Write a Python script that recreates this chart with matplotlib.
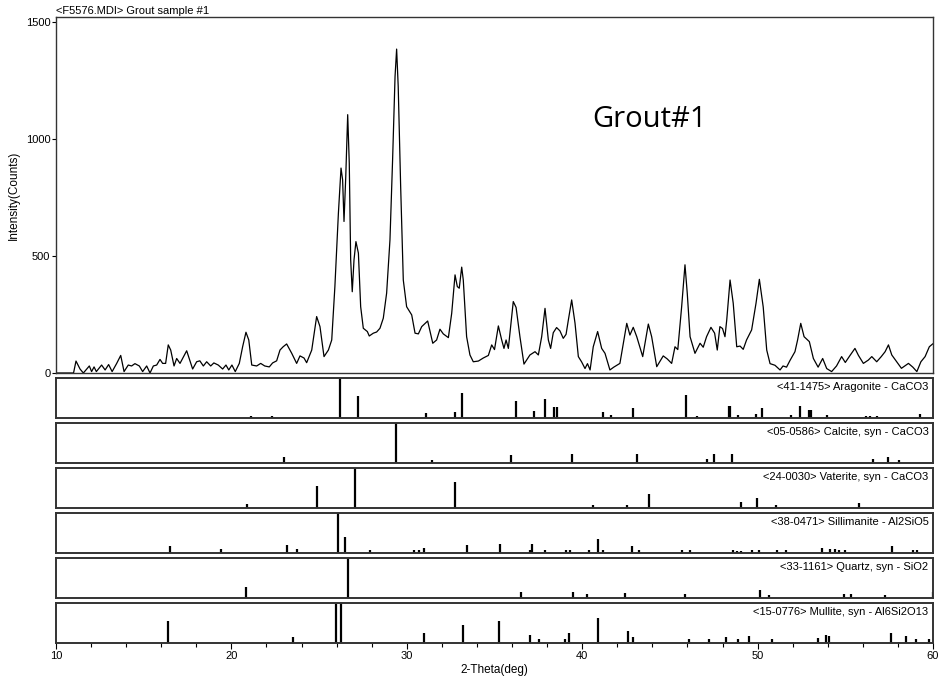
import matplotlib
matplotlib.use("Agg")
import matplotlib.pyplot as plt

# measured pattern: 2-theta (deg) and intensity (counts)
two_theta = [
    10.0, 11.0, 11.14, 11.37, 11.56, 11.9, 12.03, 12.17, 12.3, 12.6, 12.8, 13.0,
    13.2, 13.46, 13.69, 13.88, 14.12, 14.31, 14.5, 14.75, 14.94, 15.17, 15.36,
    15.55, 15.74, 15.93, 16.08, 16.25, 16.4, 16.54, 16.73, 16.88, 17.07, 17.45,
    17.79, 18.02, 18.2, 18.4, 18.59, 18.82, 19.0, 19.25, 19.5, 19.69, 19.85,
    20.03, 20.22, 20.45, 20.64, 20.83, 20.99, 21.16, 21.44, 21.67, 21.9, 22.16,
    22.35, 22.58, 22.77, 22.95, 23.15, 23.44, 23.72, 23.91, 24.14, 24.29, 24.58,
    24.86, 25.05, 25.28, 25.53, 25.72, 25.9, 26.1, 26.25, 26.34, 26.42, 26.52,
    26.63, 26.72, 26.8, 26.89, 26.99, 27.1, 27.24, 27.37, 27.52, 27.75, 27.86,
    28.09, 28.28, 28.47, 28.66, 28.85, 29.04, 29.19, 29.33, 29.42, 29.51, 29.65,
    29.8, 29.99, 30.28, 30.47, 30.66, 30.85, 31.19, 31.48, 31.7, 31.89, 32.08,
    32.37, 32.56, 32.75, 32.88, 32.99, 33.13, 33.22, 33.41, 33.6, 33.79, 34.08,
    34.36, 34.65, 34.84, 35.0, 35.22, 35.41, 35.54, 35.66, 35.79, 36.07, 36.23,
    36.45, 36.68, 37.02, 37.31, 37.5, 37.69, 37.88, 38.07, 38.2, 38.35, 38.54,
    38.73, 38.92, 39.08, 39.21, 39.4, 39.59, 39.78, 39.97, 40.16, 40.3, 40.45,
    40.63, 40.88, 41.11, 41.3, 41.58, 41.8, 42.15, 42.54, 42.72, 42.91, 43.11,
    43.45, 43.77, 43.96, 44.25, 44.62, 44.85, 45.1, 45.29, 45.45, 45.67, 45.86,
    45.99, 46.15, 46.43, 46.72, 46.9, 47.09, 47.34, 47.55, 47.7, 47.85, 48.0,
    48.14, 48.24, 48.43, 48.61, 48.81, 49.0, 49.18, 49.37, 49.66, 49.91, 50.1,
    50.32, 50.52, 50.71, 50.99, 51.28, 51.45, 51.65, 51.85, 52.13, 52.28, 52.46,
    52.65, 52.95, 53.18, 53.45, 53.71, 53.94, 54.22, 54.5, 54.79, 55.0, 55.27,
    55.55, 55.75, 56.03, 56.31, 56.51, 56.79, 57.05, 57.27, 57.46, 57.65, 57.93,
    58.2, 58.6, 58.85, 59.08, 59.31, 59.55, 59.79, 59.98,
]
counts = [
    0, 0, 51, 17, 0, 30, 6, 26, 6, 34, 13, 36,
    6, 41, 75, 6, 34, 30, 40, 30, 6, 30, 0,
    30, 34, 58, 41, 41, 120, 98, 30, 62, 41, 95,
    17, 48, 52, 30, 48, 30, 43, 34, 17, 34, 13,
    34, 6, 41, 112, 174, 141, 34, 30, 41, 30, 26,
    43, 52, 98, 112, 124, 84, 41, 73, 64, 44, 98,
    241, 198, 70, 98, 141, 369, 682, 875, 825, 647, 839,
    1103, 896, 483, 347, 483, 561, 512, 283, 191, 177, 158,
    170, 175, 191, 234, 341, 568, 910, 1266, 1383, 1224, 796,
    397, 283, 248, 170, 167, 198, 222, 127, 141, 187, 167,
    151, 255, 419, 369, 362, 452, 397, 155, 77, 48, 51,
    64, 75, 120, 100, 201, 141, 105, 141, 105, 305, 280,
    155, 38, 77, 91, 77, 155, 276, 141, 105, 172, 194,
    180, 148, 165, 226, 312, 213, 70, 47, 19, 40, 13,
    112, 177, 105, 84, 13, 25, 41, 212, 162, 195, 155,
    70, 209, 155, 27, 73, 60, 41, 112, 100, 283, 462,
    340, 155, 84, 127, 110, 155, 195, 170, 98, 198, 190,
    155, 226, 397, 298, 112, 115, 101, 141, 184, 298, 400,
    282, 98, 40, 33, 13, 30, 25, 54, 91, 141, 212,
    155, 134, 62, 25, 62, 19, 6, 30, 70, 45, 75,
    105, 75, 41, 55, 70, 48, 70, 91, 120, 77, 48,
    20, 41, 25, 6, 48, 70, 112, 124,
]

# reference patterns: label, line positions (deg), relative intensities
phase_labels = [
    "<41-1475> Aragonite - CaCO3",
    "<05-0586> Calcite, syn - CaCO3",
    "<24-0030> Vaterite, syn - CaCO3",
    "<38-0471> Sillimanite - Al2SiO5",
    "<33-1161> Quartz, syn - SiO2",
    "<15-0776> Mullite, syn - Al6Si2O13",
]

aragonite_pos = [21.1, 22.3, 26.21, 27.24, 31.11, 32.77, 33.16, 36.21, 37.25, 37.88,
                 38.39, 38.58, 41.2, 41.64, 42.88, 45.9, 46.56, 48.35, 48.45, 48.86,
                 49.89, 50.23, 51.9, 52.44, 52.93, 53.03, 53.94, 56.16, 56.41,
                 56.79, 59.26]
aragonite_int = [5, 5, 100, 54, 12, 14, 62, 43, 18, 47,
                 28, 28, 15, 8, 25, 58, 5, 29, 29, 7,
                 11, 25, 7, 29, 19, 19, 7, 6, 6,
                 6, 9]

calcite_pos = [23.02, 29.4, 31.44, 35.94, 39.44, 43.14, 47.13, 47.49, 48.56,
               56.56, 57.42, 58.08]
calcite_int = [16, 100, 7, 19, 23, 23, 9, 23, 23, 9, 14, 7]

vaterite_pos = [20.87, 24.86, 27.03, 32.73, 40.63, 42.54, 43.83, 49.03, 49.96,
                51.03, 55.78]
vaterite_int = [10, 55, 100, 66, 7, 8, 36, 14, 25, 7, 12]

sillimanite_pos = [16.52, 19.39, 23.15, 23.72, 26.06, 26.46, 27.9, 30.41, 30.71,
                   30.98, 33.42, 35.31, 37.0, 37.13, 37.88, 39.06, 39.3, 40.39,
                   40.92, 41.17, 42.82, 43.24, 45.67, 46.15, 48.61, 48.81, 49.03,
                   49.7, 50.1, 51.09, 51.62, 53.66, 54.13, 54.42, 54.66, 54.98,
                   57.68, 58.88, 59.1]
sillimanite_int = [17, 9, 19, 9, 100, 40, 7, 7, 7,
                   12, 20, 23, 8, 23, 7, 8, 8, 7,
                   35, 8, 17, 7, 7, 7, 7, 5, 5,
                   8, 7, 8, 7, 12, 9, 9, 8, 7,
                   17, 7, 7]

quartz_pos = [20.83, 26.66, 36.51, 39.47, 40.29, 42.46, 45.86, 50.14, 50.65,
              54.91, 55.35, 57.26, 59.98]
quartz_int = [27, 100, 15, 15, 11, 12, 11, 19, 7, 11, 9, 7, 15]

mullite_pos = [16.4, 23.53, 25.95, 26.27, 30.98, 33.22, 35.28, 37.0, 37.54, 39.0,
               39.27, 40.88, 42.05, 42.6, 42.88, 44.05, 46.09, 47.25, 48.2,
               48.86, 49.51, 50.8, 52.04, 53.46, 53.9, 54.05, 56.08, 57.59,
               58.06, 58.44, 59.01, 59.79]
mullite_int = [55, 15, 98, 100, 26, 44, 55, 19, 10, 11,
               26, 63, 3, 30, 15, 3, 9, 9, 14,
               9, 17, 9, 3, 12, 19, 17, 3, 26,
               3, 17, 9, 9]

phase_pos = [aragonite_pos, calcite_pos, vaterite_pos, sillimanite_pos,
             quartz_pos, mullite_pos]
phase_int = [aragonite_int, calcite_int, vaterite_int, sillimanite_int,
             quartz_int, mullite_int]

W, H = 941, 681
plt.rcParams['font.family'] = ['Liberation Sans', 'DejaVu Sans']
fig = plt.figure(figsize=(W / 100, H / 100), dpi=100)


def px_axes(left, top, right, bottom):
    return fig.add_axes([left / W, 1 - bottom / H, (right - left) / W, (bottom - top) / H])


frame_col = "#333333"

# main pattern
ax = px_axes(56, 17, 933, 373)
ax.plot(two_theta, counts, color="black", lw=0.9)
ax.set_xlim(10, 60)
ax.set_ylim(0, 1520)
ax.set_yticks([0, 500, 1000, 1500])
ax.tick_params(axis="y", direction="out", length=3, width=0.8, labelsize=8, pad=1)
ax.tick_params(axis="x", bottom=False, labelbottom=False)
for s in ax.spines.values():
    s.set_color(frame_col)
    s.set_linewidth(1.0)
ax.set_ylabel("Intensity(Counts)", fontsize=8.5, labelpad=4)
ax.text(0.0, 1.003, "<F5576.MDI> Grout sample #1", transform=ax.transAxes,
        fontsize=8, ha="left", va="bottom")
ax.text(40.6, 1050, "Grout#1", fontsize=21, family="Open Sans", ha="left", va="baseline")

# stick panels
tops = [378, 423, 468, 513, 558, 603]
for i, (lbl, pos, inten) in enumerate(zip(phase_labels, phase_pos, phase_int)):
    pa = px_axes(56, tops[i], 933, tops[i] + 40)
    pa.vlines(pos, 0, inten, color="black", lw=1.6)
    pa.set_xlim(10, 60)
    pa.set_ylim(0, 100)
    pa.set_yticks([])
    for s in pa.spines.values():
        s.set_color(frame_col)
        s.set_linewidth(1.4)
    pa.text(0.995, 0.9, lbl, transform=pa.transAxes, fontsize=8, ha="right", va="top")
    if i < len(tops) - 1:
        pa.tick_params(axis="x", bottom=False, labelbottom=False)
    else:
        pa.set_xticks([10, 20, 30, 40, 50, 60])
        pa.set_xticks(range(10, 61, 2), minor=True)
        pa.tick_params(axis="x", which="major", direction="out", length=4, width=0.8,
                       labelsize=8, pad=2)
        pa.tick_params(axis="x", which="minor", direction="out", length=3, width=0.8)
        pa.set_xlabel("2-Theta(deg)", fontsize=8.5, labelpad=2)

fig.savefig("out.png", dpi=100)
